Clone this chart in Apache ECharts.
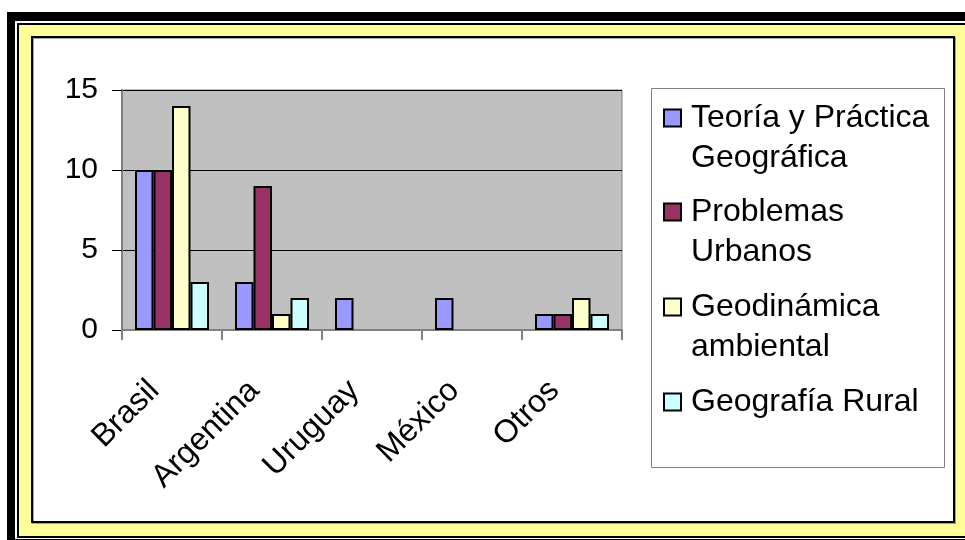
<!DOCTYPE html>
<html>
<head>
<meta charset="utf-8">
<title>Gráfico por país</title>
<script src="https://cdn.jsdelivr.net/npm/echarts@6/dist/echarts.min.js"></script>
<style>
  html, body { margin: 0; padding: 0; background: #fff; }
  #chart-container { width: 965px; height: 540px; }
</style>
</head>
<body>
<div id="chart-container"></div>
<script>
// datos
var paises = ["Brasil", "Argentina", "Uruguay", "México", "Otros"];
var teoria = [10, 3, 2, 2, 1];
var problemas = [10, 9, "-", "-", 1];
var geodinamica = [14, 1, "-", "-", 2];
var rural = [3, 2, "-", "-", 1];
var ejeY = [0, 15, 5]; // min, max, intervalo

var nombres = [
  "Teoría y Práctica\nGeográfica",
  "Problemas\nUrbanos",
  "Geodinámica\nambiental",
  "Geografía Rural",
];
var colores = ["#9999ff", "#993366", "#ffffcc", "#ccffff"];
var valores = [teoria, problemas, geodinamica, rural];

var fuente = "'Liberation Sans', Arial, sans-serif";

var dom = document.getElementById("chart-container");
var myChart = echarts.init(dom, null, { renderer: "canvas" });

// una leyenda por elemento; la línea vacía arriba deja el icono junto a la primera línea
var leyendaTop = [58, 152, 247, 382];
var leyendas = nombres.map(function (n, i) {
  return {
    data: [n],
    orient: "vertical",
    left: 663,
    top: leyendaTop[i],
    padding: 0,
    itemWidth: 17,
    itemHeight: 17,
    icon: "rect",
    selectedMode: false,
    itemStyle: { borderColor: "#000", borderWidth: 2 },
    formatter: function (name) {
      return name.indexOf("\n") >= 0 ? "\n" + name : name;
    },
    textStyle: {
      fontFamily: fuente,
      fontSize: 32,
      color: "#000",
      lineHeight: 40,
      padding: [0, 0, 0, 5],
    },
  };
});

var option = {
  backgroundColor: "#fff",
  animation: false,
  textStyle: { fontFamily: fuente },
  graphic: [
    // marco exterior
    { type: "rect", shape: { x: 7, y: 12, width: 1000, height: 1000 }, style: { fill: "#000" }, z: -10 },
    { type: "rect", shape: { x: 15, y: 21, width: 1000, height: 518 }, style: { fill: "#fff" }, z: -10 },
    { type: "rect", shape: { x: 17, y: 23, width: 1000, height: 515 }, style: { fill: "#000" }, z: -10 },
    { type: "rect", shape: { x: 19, y: 25, width: 1000, height: 511 }, style: { fill: "#ffff99" }, z: -10 },
    {
      type: "rect",
      shape: { x: 32, y: 37, width: 922, height: 485 },
      style: { fill: "#fff", stroke: "#000", lineWidth: 2, shadowColor: "rgba(0,0,0,0.35)", shadowOffsetX: 1, shadowOffsetY: 1 },
      z: -10,
    },
    // caja de la leyenda
    {
      type: "rect",
      shape: { x: 651.5, y: 88.5, width: 293, height: 379 },
      style: { fill: "#fff", stroke: "#808080", lineWidth: 1 },
      z: -5,
    },
  ],
  legend: leyendas,
  grid: {
    left: 122,
    top: 90,
    right: 343,
    bottom: 210,
    show: true,
    backgroundColor: "#c0c0c0",
    borderColor: "#808080",
    borderWidth: 1,
  },
  xAxis: {
    type: "category",
    data: paises,
    axisLine: { lineStyle: { color: "#808080", width: 2 } },
    axisTick: { show: true, length: 10, lineStyle: { color: "#808080", width: 2 } },
    axisLabel: {
      rotate: 45,
      margin: 38,
      padding: [0, 25, 0, 0],
      fontSize: 32,
      fontFamily: fuente,
      color: "#000",
      interval: 0,
    },
  },
  yAxis: {
    type: "value",
    min: ejeY[0],
    max: ejeY[1],
    interval: ejeY[2],
    axisLine: { show: true, lineStyle: { color: "#808080", width: 2 } },
    axisTick: { show: true, length: 10, lineStyle: { color: "#000", width: 1 } },
    axisLabel: { fontSize: 30, fontFamily: fuente, color: "#000", margin: 24 },
    splitLine: { lineStyle: { color: "#000", width: 1 } },
  },
  series: nombres.map(function (n, i) {
    return {
      name: n,
      type: "bar",
      data: valores[i],
      barGap: "0%",
      barCategoryGap: "26%",
      itemStyle: { color: colores[i], borderColor: "#000", borderWidth: 2 },
    };
  }),
};

myChart.setOption(option);
</script>
</body>
</html>
